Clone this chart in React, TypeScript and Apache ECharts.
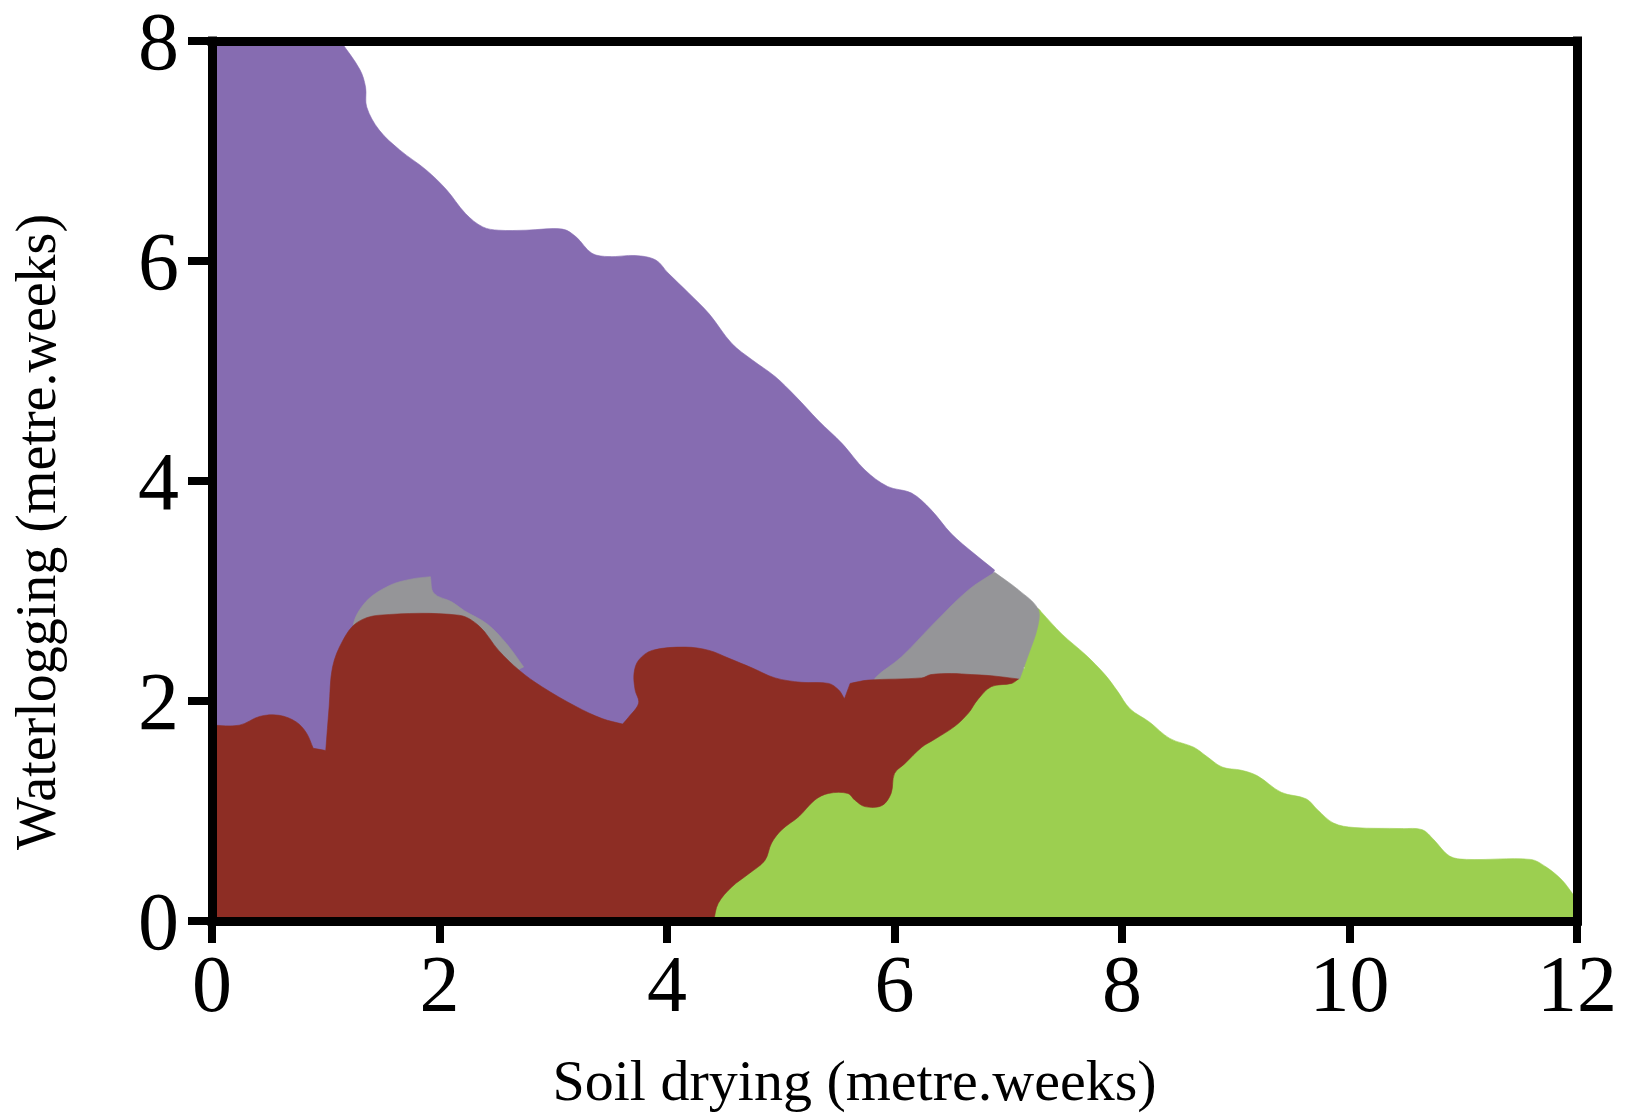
import React, { useEffect, useRef } from "react";
import * as echarts from "echarts";

// ---- data (x: soil drying, y: waterlogging, metre.weeks) ----
const xTickInterval = 2;
const yTickInterval = 2;

const purpleRegion: number[][] = [
  [0, 0], [0, 8], [1.13, 8], [1.3, 7.74], [1.35, 7.58], [1.36, 7.4], [1.47, 7.19], [1.65, 7.01],
  [1.88, 6.83], [2.06, 6.65], [2.23, 6.43], [2.38, 6.31], [2.52, 6.28], [2.76, 6.28], [3.08, 6.29],
  [3.2, 6.22], [3.34, 6.07], [3.49, 6.04], [3.72, 6.05], [3.9, 6.01], [4.01, 5.89], [4.19, 5.71],
  [4.37, 5.52], [4.57, 5.25], [4.75, 5.1], [4.95, 4.95], [5.13, 4.77], [5.33, 4.55], [5.54, 4.34],
  [5.74, 4.1], [5.94, 3.95], [6.15, 3.89], [6.32, 3.74], [6.5, 3.52], [6.7, 3.34], [6.88, 3.19],
  [6.6, 2.6], [6.2, 2.0], [5.6, 1.4], [4.41, 0],
];

const greenRegion: number[][] = [
  [4.2, 0], [4.6, 0.6], [5.3, 1.5], [6.0, 1.9], [6.6, 2.1], [7.0, 2.25], [7.15, 2.3],
  [6.9, 2.5], [7.0, 2.9], [7.26, 2.84], [7.29, 2.81], [7.47, 2.61], [7.68, 2.42], [7.85, 2.24],
  [7.96, 2.09], [8.07, 1.93], [8.24, 1.81], [8.42, 1.66], [8.63, 1.58], [8.74, 1.5], [8.88, 1.4],
  [9.05, 1.37], [9.19, 1.32], [9.4, 1.17], [9.62, 1.11], [9.72, 1.01], [9.86, 0.89], [10.04, 0.85],
  [10.46, 0.84], [10.64, 0.83], [10.74, 0.74], [10.88, 0.59], [11.03, 0.56], [11.59, 0.56],
  [11.73, 0.49], [11.87, 0.37], [11.96, 0.25], [12, 0.2], [12, 0],
];

const grayCapRegion: number[][] = [
  [1.24, 2.67], [1.35, 2.9], [1.56, 3.05], [1.76, 3.11], [1.92, 3.13], [1.95, 2.98], [2.11, 2.9],
  [2.22, 2.82], [2.42, 2.7], [2.59, 2.52], [2.74, 2.31], [2.5, 2.2], [1.3, 2.2],
];

const grayWedgeRegion: number[][] = [
  [5.83, 2.15], [5.83, 2.21], [6.06, 2.4], [6.35, 2.71], [6.65, 3.01], [6.88, 3.17], [7.09, 3.01],
  [7.26, 2.84], [7.26, 2.68], [7.17, 2.4], [7.1, 2.2], [6.5, 2.15],
];

const redRegion: number[][] = [
  [0, 0], [0, 1.78], [0.24, 1.78], [0.42, 1.86], [0.59, 1.87], [0.74, 1.81], [0.83, 1.71], [0.89, 1.57],
  [1.0, 1.55], [1.03, 1.95], [1.06, 2.31], [1.15, 2.55], [1.27, 2.71], [1.47, 2.78], [2.17, 2.78],
  [2.35, 2.68], [2.52, 2.46], [2.7, 2.28], [2.9, 2.13], [3.2, 1.95], [3.43, 1.84], [3.61, 1.79],
  [3.66, 1.85], [3.75, 1.98], [3.72, 2.1], [3.71, 2.25], [3.75, 2.37], [3.87, 2.46], [4.16, 2.49],
  [4.37, 2.46], [4.54, 2.39], [4.75, 2.3], [4.95, 2.21], [5.18, 2.17], [5.42, 2.16], [5.51, 2.1],
  [5.56, 2.02], [5.61, 2.16], [5.77, 2.19], [6.24, 2.21], [6.32, 2.24], [6.5, 2.25], [6.68, 2.24],
  [6.85, 2.23], [7.09, 2.2], [7.03, 2.16], [6.85, 2.13], [6.73, 2.01], [6.65, 1.89], [6.53, 1.77],
  [6.35, 1.65], [6.24, 1.58], [6.09, 1.43], [6.0, 1.34], [5.97, 1.16], [5.89, 1.05], [5.74, 1.04],
  [5.65, 1.1], [5.59, 1.16], [5.42, 1.16], [5.3, 1.1], [5.16, 0.95], [5.01, 0.83], [4.92, 0.71],
  [4.86, 0.55], [4.72, 0.43], [4.57, 0.31], [4.45, 0.16], [4.41, 0],
];

const COLORS = {
  purple: "#866cb1",
  green: "#9ccf50",
  gray: "#959598",
  red: "#8d2d24",
};

const FONT = "'Liberation Serif', 'Times New Roman', serif";

// Keep sharp corners (plot edges, strong turns) by doubling those points,
// so the bezier smoothing only rounds the gently curving boundaries.
function smoothReadyPoints(data: number[][], px: number[][]) {
  const n = px.length;
  const out: number[][] = [];
  for (let i = 0; i < n; i++) {
    const [dx, dy] = data[i];
    const onEdge = dx <= 0.001 || dx >= 11.999 || dy <= 0.001 || dy >= 7.999;
    const p = px[i];
    const a = px[(i - 1 + n) % n];
    const b = px[(i + 1) % n];
    const v1 = [p[0] - a[0], p[1] - a[1]];
    const v2 = [b[0] - p[0], b[1] - p[1]];
    const l1 = Math.hypot(v1[0], v1[1]);
    const l2 = Math.hypot(v2[0], v2[1]);
    let sharp = false;
    if (l1 > 0 && l2 > 0) {
      const cos = (v1[0] * v2[0] + v1[1] * v2[1]) / (l1 * l2);
      sharp = cos < Math.cos((55 * Math.PI) / 180);
    }
    out.push(p);
    if (onEdge || sharp) out.push([p[0], p[1]]);
  }
  return out;
}

function regionSeries(name: string, pts: number[][], color: string, z: number) {
  return {
    type: "custom",
    name,
    data: pts,
    encode: { x: 0, y: 1 },
    silent: true,
    clip: true,
    z,
    renderItem: (params: any, api: any) => {
      if (params.dataIndex !== 0) return null;
      const px = pts.map((p) => api.coord(p));
      const points = smoothReadyPoints(pts, px);
      return {
        type: "polygon",
        shape: { points, smooth: 0.35 },
        style: { fill: color, stroke: color, lineWidth: 0.6 },
      };
    },
  };
}

export default function App() {
  const ref = useRef<HTMLDivElement>(null);

  useEffect(() => {
    document.body.style.margin = "0";
    if (!ref.current) return;
    const chart = echarts.init(ref.current, null, { renderer: "svg" });
    const axisLineStyle = { color: "#000", width: 9, cap: "square" };
    chart.setOption({
      animation: false,
      backgroundColor: "#fff",
      grid: { left: 209, right: 50, top: 41, bottom: 197, containLabel: false },
      xAxis: [
        {
          type: "value",
          min: 0,
          max: 12,
          interval: xTickInterval,
          position: "bottom",
          z: 10,
          axisLine: { show: true, onZero: false, lineStyle: axisLineStyle },
          axisTick: { show: true, length: 22, lineStyle: { color: "#000", width: 8 } },
          axisLabel: { color: "#000", fontFamily: FONT, fontSize: 80, margin: 23 },
          splitLine: { show: false },
          name: "Soil drying (metre.weeks)",
          nameLocation: "middle",
          nameGap: 130,
          nameTextStyle: { color: "#000", fontFamily: FONT, fontSize: 58, padding: [0, 80, 0, 0] },
        },
        {
          type: "value",
          min: 0,
          max: 12,
          interval: xTickInterval,
          position: "top",
          z: 10,
          axisLine: { show: true, onZero: false, lineStyle: axisLineStyle },
          axisTick: { show: false },
          axisLabel: { show: false },
          splitLine: { show: false },
        },
      ],
      yAxis: [
        {
          type: "value",
          min: 0,
          max: 8,
          interval: yTickInterval,
          position: "left",
          z: 10,
          axisLine: { show: true, onZero: false, lineStyle: axisLineStyle },
          axisTick: { show: true, length: 24, lineStyle: { color: "#000", width: 8 } },
          axisLabel: { color: "#000", fontFamily: FONT, fontSize: 82, margin: 33 },
          splitLine: { show: false },
          name: "Waterlogging (metre.weeks)",
          nameLocation: "middle",
          nameGap: 148,
          nameRotate: 90,
          nameTextStyle: { color: "#000", fontFamily: FONT, fontSize: 56, padding: [0, 102, 0, 0] },
        },
        {
          type: "value",
          min: 0,
          max: 8,
          interval: yTickInterval,
          position: "right",
          z: 10,
          axisLine: { show: true, onZero: false, lineStyle: axisLineStyle },
          axisTick: { show: false },
          axisLabel: { show: false },
          splitLine: { show: false },
        },
      ],
      series: [
        regionSeries("Purple region", purpleRegion, COLORS.purple, 1),
        regionSeries("Green region", greenRegion, COLORS.green, 2),
        regionSeries("Gray cap", grayCapRegion, COLORS.gray, 3),
        regionSeries("Gray wedge", grayWedgeRegion, COLORS.gray, 3),
        regionSeries("Red region", redRegion, COLORS.red, 4),
      ],
    });
    return () => chart.dispose();
  }, []);

  return <div ref={ref} style={{ width: 1627, height: 1118 }} />;
}
